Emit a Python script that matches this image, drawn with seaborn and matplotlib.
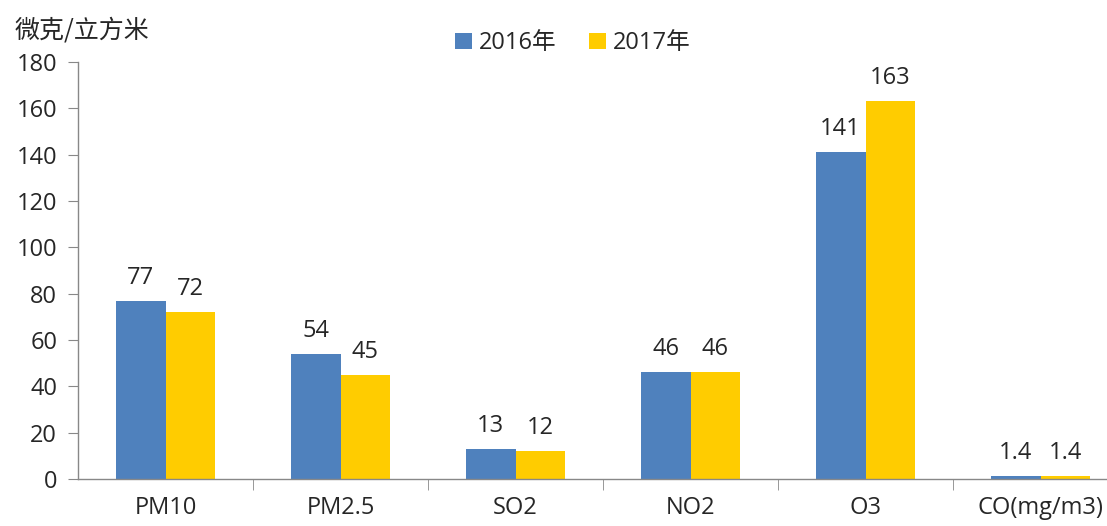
import pandas as pd
import matplotlib
matplotlib.use("Agg")
import matplotlib.pyplot as plt
import seaborn as sns

# pollutant annual averages
pollutants = ["PM10", "PM2.5", "SO2", "NO2", "O3", "CO(mg/m3)"]
years = ["2016年", "2017年"]
values_2016 = [77, 54, 13, 46, 141, 1.4]
values_2017 = [72, 45, 12, 46, 163, 1.4]
yticks = [0, 20, 40, 60, 80, 100, 120, 140, 160, 180]

df = pd.DataFrame({
    "pollutant": pollutants * 2,
    "year": [years[0]] * len(pollutants) + [years[1]] * len(pollutants),
    "value": values_2016 + values_2017,
})

sns.set_style("white")
plt.rcParams["font.family"] = ["Open Sans", "Noto Sans CJK SC", "DejaVu Sans"]
text_color = "#262626"
axis_color = "#888888"
fs = 17

fig = plt.figure(figsize=(11.07, 5.26), dpi=100)
ax = fig.add_axes([78 / 1107, 47 / 526, 1050 / 1107, 417 / 526])

sns.barplot(data=df, x="pollutant", y="value", hue="year",
            palette=["#4F81BD", "#FFCC00"], width=0.57, saturation=1,
            linewidth=0, ax=ax, legend=True)

for cont in ax.containers:
    labels = [("%g" % b.get_height()) for b in cont]
    ax.bar_label(cont, labels=labels, padding=8, fontsize=fs, color=text_color)

ax.set_xlim(-0.5, len(pollutants) - 0.5)
ax.set_ylim(0, 180)
ax.set_yticks(yticks)
ax.set_xlabel("")
ax.set_ylabel("")
for side in ["top", "right"]:
    ax.spines[side].set_visible(False)
for side in ["left", "bottom"]:
    ax.spines[side].set_color(axis_color)
    ax.spines[side].set_linewidth(1)

ax.tick_params(axis="y", direction="out", length=7, color=axis_color,
               labelsize=fs, labelcolor=text_color, pad=8, left=True)
ax.tick_params(axis="x", which="major", length=0, labelsize=fs,
               labelcolor=text_color, pad=12)
ax.set_xticks([i + 0.5 for i in range(len(pollutants) - 1)], minor=True)
ax.tick_params(axis="x", which="minor", direction="out", length=8,
               color=axis_color, bottom=True)

leg = ax.legend(loc="upper center", bbox_to_anchor=(495 / 1050, 1.125),
                ncol=2, frameon=False, fontsize=fs, handlelength=0.7,
                handleheight=0.7, handletextpad=0.3, columnspacing=1.4)
for t in leg.get_texts():
    t.set_color(text_color)

fig.text(15 / 1107, 1 - 30 / 526, "微克/立方米", fontsize=18, color=text_color,
         va="center", ha="left", family=["Noto Sans CJK SC", "DejaVu Sans"])

fig.savefig("out.png", dpi=100)
